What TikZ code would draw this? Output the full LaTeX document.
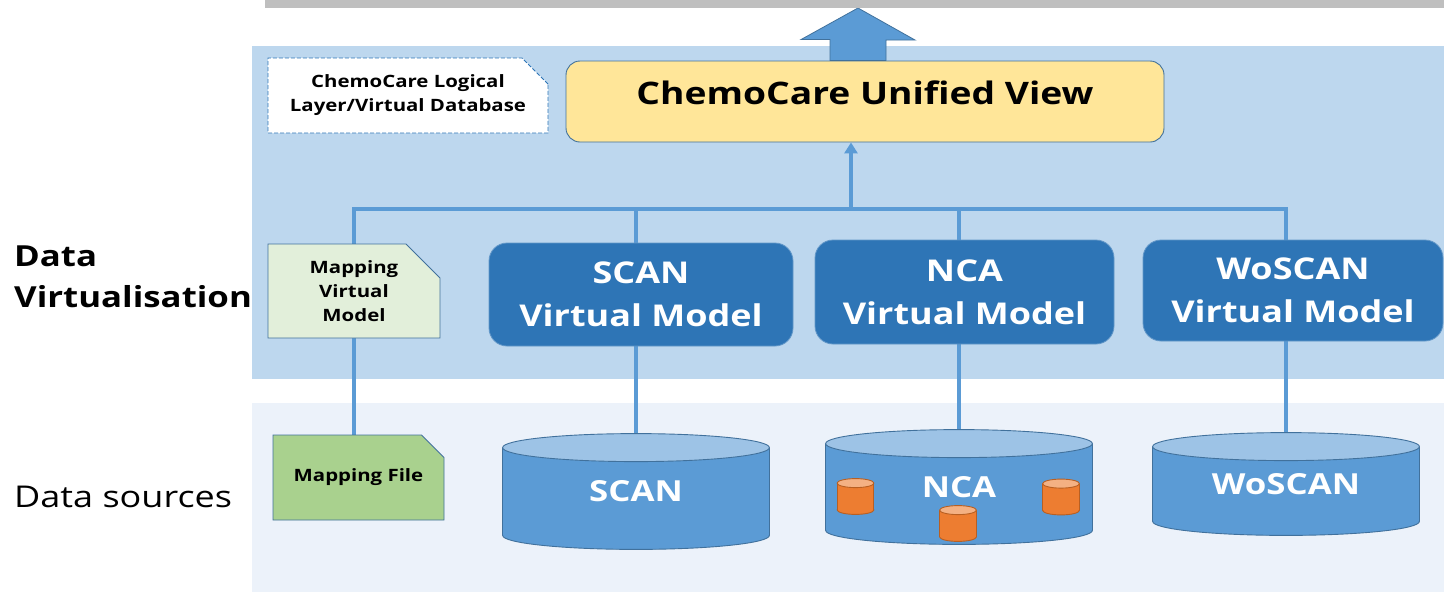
\documentclass[tikz,border=0pt]{standalone}
\usepackage{fontspec}
\setmainfont{Open Sans}[FakeStretch=1.2]
\usetikzlibrary{positioning, calc, arrows.meta, shapes.misc}
\definecolor{bandtop}{HTML}{BDD7EE}
\definecolor{bandlow}{HTML}{ECF2FA}
\definecolor{barfill}{HTML}{BFBFBF}
\definecolor{modelfill}{HTML}{2E75B6}
\definecolor{wire}{HTML}{5B9BD5}
\definecolor{drumbody}{HTML}{5B9BD5}
\definecolor{drumtop}{HTML}{9DC3E6}
\definecolor{drumline}{HTML}{41719C}
\definecolor{viewfill}{HTML}{FFE699}
\definecolor{mapvmfill}{HTML}{E2EFDA}
\definecolor{mapfilefill}{HTML}{A9D18E}
\definecolor{minibody}{HTML}{ED7D31}
\definecolor{minitop}{HTML}{F4B183}
\definecolor{miniline}{HTML}{B85F22}
\pgfdeclarelayer{bands}
\pgfdeclarelayer{wires}
\pgfsetlayers{bands,wires,main}

% body, top, outline, x radius, y radius
\newcommand\drumfill[5]{%
  \filldraw[fill=#1, draw=#3, line width=0.9pt] ($(path picture bounding box.south)+(0,-#5-0.6)$) ellipse [x radius=#4pt, y radius=#5pt];
  \fill[#1] ($(path picture bounding box.south west)+(0.6,-#5-0.6)$) rectangle ($(path picture bounding box.north east)+(-0.6,#5+0.6)$);
  \draw[#3, line width=0.9pt] ($(path picture bounding box.south west)+(0.6,-#5-0.6)$) -- ($(path picture bounding box.north west)+(0.6,#5+0.6)$);
  \draw[#3, line width=0.9pt] ($(path picture bounding box.south east)+(-0.6,-#5-0.6)$) -- ($(path picture bounding box.north east)+(-0.6,#5+0.6)$);
  \filldraw[fill=#2, draw=#3, line width=0.9pt] ($(path picture bounding box.north)+(0,#5+0.6)$) ellipse [x radius=#4pt, y radius=#5pt];
}

\tikzset{
  model/.style={rounded corners=18pt, fill=modelfill, draw=modelfill!75!white, line width=0.8pt,
    text=white, align=center, inner sep=0pt, font=\fontsize{30}{43}\selectfont\bfseries},
  drum/.style={inner sep=0pt, minimum width=268pt, text=white, font=\fontsize{29}{35}\selectfont\bfseries,
    path picture={\drumfill{drumbody}{drumtop}{drumline}{133.4}{14}}},
  minidrum/.style={inner sep=0pt, minimum width=38pt, minimum height=37pt,
    path picture={\drumfill{minibody}{minitop}{miniline}{18.4}{4.5}}},
  note/.style={chamfered rectangle, chamfered rectangle corners=north east, inner sep=0pt,
    draw=drumline, line width=0.8pt, align=center, font=\fontsize{17}{24}\selectfont\bfseries},
  link/.style={draw=wire, line width=3.5pt},
}

\begin{document}
\begin{tikzpicture}[x=1pt, y=-1pt]
\useasboundingbox (0,0) rectangle (1444,592);

\begin{pgfonlayer}{bands}
\fill[bandtop] (252,46) rectangle (1444,379);
\fill[bandlow] (252,403) rectangle (1444,592);
\end{pgfonlayer}

\node[anchor=west, align=left, inner sep=0pt, font=\fontsize{29}{41}\selectfont\bfseries] (virt label) at (14,277) {Data\\Virtualisation};
\node[anchor=base west, inner sep=0pt, font=\fontsize{30}{36}\selectfont] (src label) at (14,507) {Data sources};

\node[note, dashed, dash pattern=on 4pt off 2pt, draw=modelfill, fill=white, minimum width=280pt, minimum height=75pt,
  chamfered rectangle xsep=12pt, chamfered rectangle ysep=14pt] (logical) at (408,95.5) {ChemoCare Logical\\Layer/Virtual Database};
\node[rounded corners=14pt, fill=viewfill, draw=drumline, line width=0.9pt, minimum width=598pt, minimum height=81pt,
  inner sep=0pt, text depth=17pt, font=\fontsize{31}{37}\selectfont\bfseries] (uv) at (865,101.5) {ChemoCare Unified View};

\node[note, fill=mapvmfill, minimum width=172pt, minimum height=94pt,
  chamfered rectangle xsep=18pt, chamfered rectangle ysep=16pt] (mapvm) at (354,291) {Mapping\\Virtual\\Model};
\node[model, minimum width=304pt, minimum height=103pt] (scanvm) at (641,294.5) {SCAN\\Virtual Model};
\node[model, minimum width=299pt, minimum height=104pt] (ncavm) at (964.5,292) {NCA\\Virtual Model};
\node[model, minimum width=300pt, minimum height=101pt] (woscanvm) at (1293,290.5) {WoSCAN\\Virtual Model};

\node[note, fill=mapfilefill, minimum width=171pt, minimum height=85pt,
  chamfered rectangle xsep=16pt, chamfered rectangle ysep=14pt] (mapfile) at (358.5,477.5) {Mapping File};
\node[drum, minimum height=117pt] (scandb) at (636,491.5) {SCAN};
\node[drum, minimum height=116pt] (ncadb) at (959,487) {NCA};
\node[drum, minimum height=104pt] (woscandb) at (1286,484) {WoSCAN};

\node[minidrum] (nca left) at (855.5,496.5) {};
\node[minidrum] (nca mid) at (958,523.5) {};
\node[minidrum] (nca right) at (1061,497) {};

\begin{pgfonlayer}{wires}
\coordinate (hub) at (851,209);
\coordinate (feed) at (858,8);
\draw[link] (mapfile.north -| mapvm.north) -- (mapvm.north |- hub) -- (woscandb.north |- hub) -- (woscandb.north);
\draw[link] (scandb.north) -- (scandb.north |- hub);
\draw[link] (ncadb.north) -- (ncadb.north |- hub);
\draw[link, -{Triangle[length=11pt, width=13pt]}] (hub) -- (hub |- uv.south);
\filldraw[fill=wire, draw=drumline, line width=0.8pt] (feed) -- ++(57,32) -- ++(-29,0)
  -- ($(feed |- uv.north)+(28,0)$) -- ($(feed |- uv.north)+(-28,0)$) -- ++(0,-21) -- ++(-29,0) -- cycle;
\end{pgfonlayer}

\fill[barfill] (265,0) rectangle (1444,8);
\end{tikzpicture}
\end{document}
